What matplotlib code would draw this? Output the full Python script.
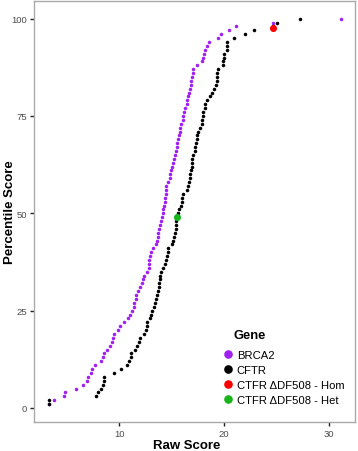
import matplotlib
matplotlib.use("Agg")
import matplotlib.pyplot as plt
from matplotlib.lines import Line2D

plt.rcParams['font.family'] = ['Liberation Sans', 'DejaVu Sans']

percentiles = list(range(1, 101))

brca2_raw = [3.3, 3.76, 4.69, 4.78, 5.86, 6.5, 6.9, 7.0, 7.3, 7.4,
             7.7, 8.2, 8.44, 8.5, 8.8, 9.14, 9.3, 9.43, 9.5, 9.85,
             10.1, 10.42, 10.83, 11.05, 11.24, 11.37, 11.43, 11.56, 11.62, 11.8,
             11.98, 12.14, 12.23, 12.33, 12.67, 12.8, 12.84, 12.87, 12.93, 13.03,
             13.25, 13.53, 13.6, 13.7, 13.73, 13.82, 13.9, 14.0, 14.1, 14.17,
             14.2, 14.3, 14.33, 14.36, 14.43, 14.46, 14.5, 14.6, 14.8, 14.87,
             14.94, 15.0, 15.13, 15.2, 15.35, 15.44, 15.5, 15.54, 15.64, 15.74,
             15.8, 15.83, 15.86, 16.08, 16.1, 16.2, 16.27, 16.47, 16.5, 16.6,
             16.66, 16.7, 16.8, 16.85, 16.9, 17.0, 17.0, 17.4, 17.9, 18.0,
             18.1, 18.2, 18.4, 18.6, 19.4, 19.7, 20.5, 21.1, 24.7, 31.2]

cftr_raw = [3.3, 3.3, 7.77, 7.97, 8.25, 8.41, 8.5, 8.57, 9.5, 10.13,
            10.77, 10.9, 11.12, 11.15, 11.5, 11.72, 11.85, 12.0, 12.39, 12.5,
            12.6, 12.67, 12.93, 13.0, 13.15, 13.31, 13.38, 13.5, 13.57, 13.67,
            13.76, 13.79, 13.89, 13.92, 14.01, 14.14, 14.33, 14.46, 14.52, 14.62,
            14.65, 15.03, 15.1, 15.23, 15.32, 15.39, 15.45, 15.45, 15.5, 15.58,
            15.7, 15.86, 15.96, 16.02, 16.11, 16.47, 16.53, 16.66, 16.72, 16.78,
            16.88, 16.92, 16.92, 16.94, 17.07, 17.2, 17.26, 17.33, 17.42, 17.45,
            17.55, 17.7, 17.87, 17.93, 18.0, 18.03, 18.13, 18.22, 18.38, 18.69,
            18.85, 19.05, 19.2, 19.3, 19.3, 19.36, 19.46, 19.94, 19.94, 19.97,
            20.0, 20.3, 20.3, 20.3, 20.93, 21.98, 22.9, 24.7, 25.06, 27.26]

hom_raw, hom_pct = [24.7], [97.5]
het_raw, het_pct = [15.5], [49.0]

genes = ["BRCA2", "CFTR", "CTFR \u0394DF508 - Hom", "CTFR \u0394DF508 - Het"]
colors = ["#A020F0", "#000000", "#FF0000", "#17B41A"]

x_ticks = [10, 20, 30]
y_ticks = [0, 25, 50, 75, 100]

W, H = 358, 452
fig = plt.figure(figsize=(W/100, H/100), dpi=100)
ax = fig.add_axes([34/W, 1 - 423/H, (355-34)/W, (423-1.7)/H])

ax.scatter(brca2_raw, percentiles, s=6.5, color=colors[0], linewidths=0, zorder=3)
ax.scatter(cftr_raw, percentiles, s=6.5, color=colors[1], linewidths=0, zorder=3)
ax.scatter(hom_raw, hom_pct, s=26, color=colors[2], linewidths=0, zorder=4)
ax.scatter(het_raw, het_pct, s=26, color=colors[3], linewidths=0, zorder=4)

ax.set_xlim(1.85, 32.5)
ax.set_ylim(-3.6, 104.6)
ax.set_xticks(x_ticks)
ax.set_yticks(y_ticks)
ax.tick_params(axis='both', length=3, width=1, color='#222222', labelsize=6.8,
               labelcolor='#4d4d4d', pad=2)
for sp in ax.spines.values():
    sp.set_color('#aaaaaa')
    sp.set_linewidth(1)

fig.text(187/W, 1 - 446/H, "Raw Score", fontsize=9.5, fontweight='bold',
         ha='center', va='center')
fig.text(10/W, 1 - 212/H, "Percentile Score", fontsize=9.5, fontweight='bold',
         ha='center', va='center', rotation=90)

# legend
fig.text(234/W, 1 - 336/H, "Gene", fontsize=9.3, fontweight='bold',
         ha='left', va='center')
handles = [Line2D([], [], marker='o', linestyle='', markersize=6.2,
                  markerfacecolor=c, markeredgewidth=0) for c in colors]
leg = fig.legend(handles, genes, loc='upper left',
                 bbox_to_anchor=(221/W, 1 - 351/H),
                 frameon=False, fontsize=8.1,
                 handletextpad=0.2, labelspacing=0.45, handlelength=1.2,
                 borderaxespad=0, borderpad=0)

fig.savefig("out.png", dpi=100)
